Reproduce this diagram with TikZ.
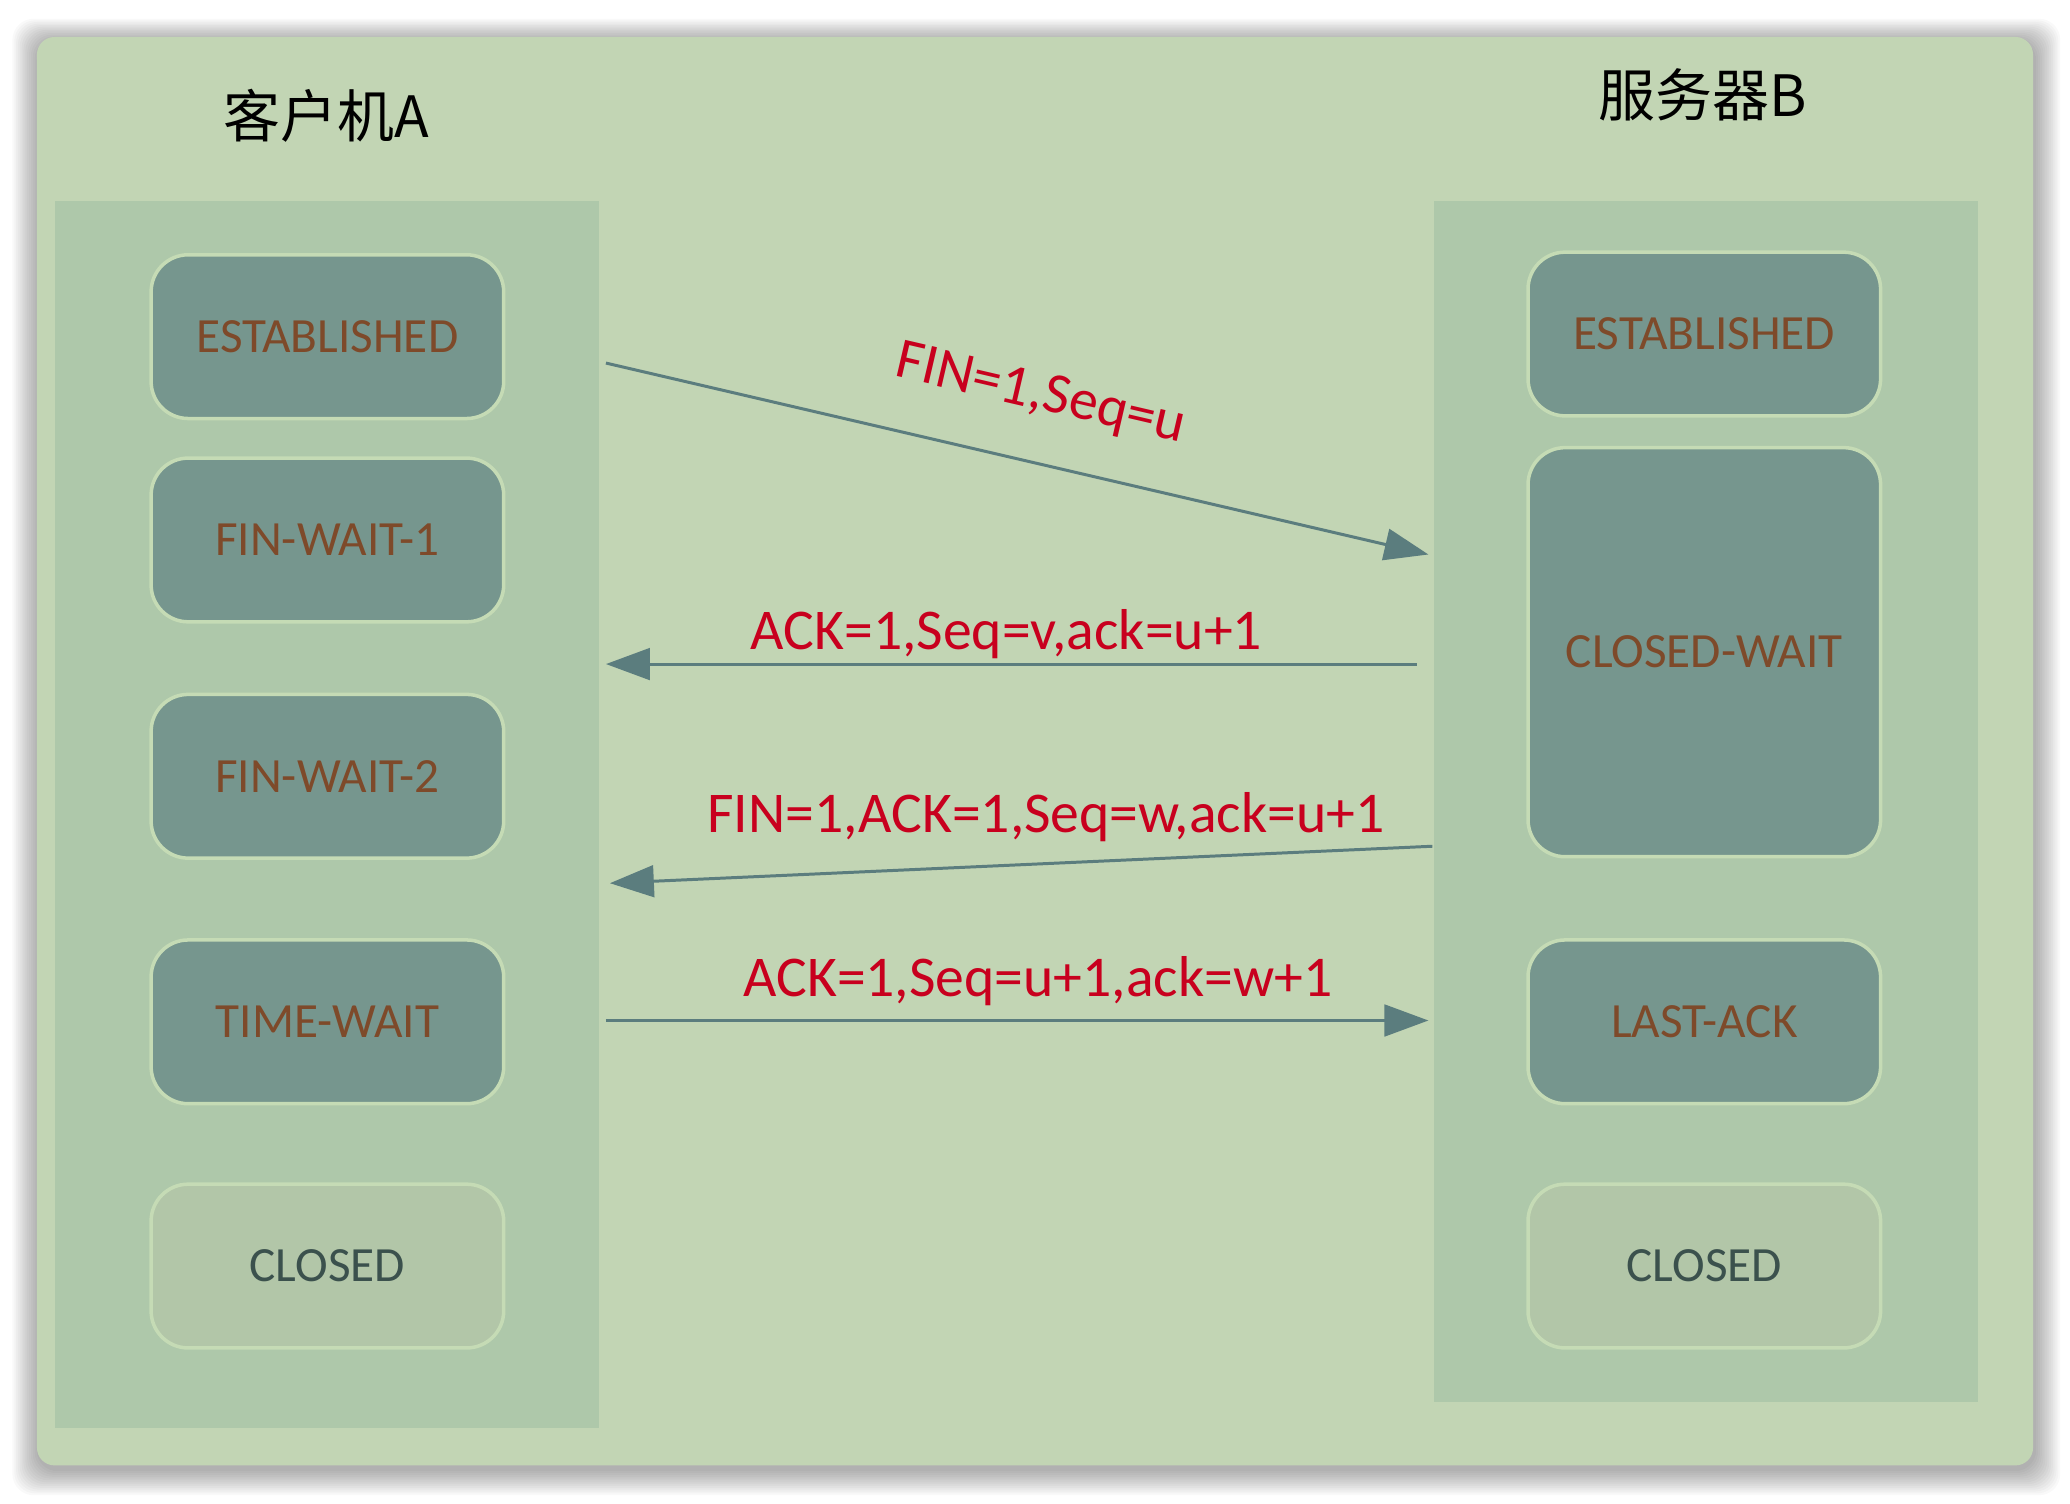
\documentclass[tikz,border=0pt]{standalone}
\usepackage{fontspec}
\setmainfont{Carlito}
\newfontfamily\cjk{Noto Sans CJK SC}
\usetikzlibrary{arrows.meta}
\definecolor{outerbg}{HTML}{C2D5B4}
\definecolor{colbg}{HTML}{AEC8AA}
\definecolor{nodefill}{HTML}{76968E}
\definecolor{nodeline}{HTML}{C5DBB5}
\definecolor{closedfill}{HTML}{B2C6A8}
\definecolor{brown}{HTML}{7E4A2A}
\definecolor{closedtext}{HTML}{3B514D}
\definecolor{arrowc}{HTML}{5B7D7E}
\definecolor{labred}{HTML}{C8001E}
\tikzset{
  state/.style={draw=nodeline, line width=1pt, fill=nodefill, rounded corners=0.37cm,
    minimum width=3.525cm, minimum height=1.637cm, inner sep=0pt,
    text=brown, font=\fontsize{14}{16}\selectfont},
  closedst/.style={state, fill=closedfill, text=closedtext},
  msg/.style={draw=arrowc, line width=0.85pt, -{Triangle[length=12.5pt,width=9pt]}},
  msglabel/.style={text=labred, inner sep=0pt, font=\fontsize{16.4}{18}\selectfont},
  title/.style={font=\cjk\fontsize{16.2}{18}\selectfont, text=black, inner sep=0pt}
}
\begin{document}
\begin{tikzpicture}[x=0.013202cm, y=-0.013202cm]
\useasboundingbox (0,0) rectangle (1568,1139);
\fill[white] (0,0) rectangle (1568,1139);
% soft shadow of the outer panel
\foreach \i in {1,...,14}{
  \fill[black, opacity=0.022, rounded corners=6pt]
    ({28-1.4*\i+1},{28-1.2*\i+3}) rectangle ({1540+1.4*\i+1},{1110+1.4*\i+3});
}
% outer panel
\fill[outerbg, rounded corners=5pt] (28,28) rectangle (1540,1110);
\fill[colbg] (42,152) rectangle (454,1082);
\fill[colbg] (1086,152) rectangle (1498,1062);
% titles
\node[title] (tA) at (247,88) {客户机A};
\node[title] (tB) at (1290,72) {服务器B};
% client states
\node[state] (aEst) at (248,255) {ESTABLISHED};
\node[state] (aFw1) at (248,409) {FIN-WAIT-1};
\node[state] (aFw2) at (248,588) {FIN-WAIT-2};
\node[state] (aTw) at (248,774) {TIME-WAIT};
\node[closedst] (aCl) at (248,959) {CLOSED};
% server states
\node[state] (bEst) at (1291,253) {ESTABLISHED};
\node[state, minimum height=4.09cm] (bCw) at (1291,494) {CLOSED-WAIT};
\node[state] (bLa) at (1291,774) {LAST-ACK};
\node[closedst] (bCl) at (1291,959) {CLOSED};
% connector end points
\coordinate (m1s) at (459,275);
\coordinate (m1e) at (1082,420);
\coordinate (m2s) at (1073,503);
\coordinate (m2e) at (459,503);
\coordinate (m3s) at (1085,641);
\coordinate (m3e) at (462,669);
\coordinate (m4s) at (459,773);
\coordinate (m4e) at (1082,773);
% messages
\draw[msg] (m1s) -- node[msglabel, sloped, above=0.42cm, pos=0.51] (l1) {FIN=1,Seq=u} (m1e);
\draw[msg] (m2s) -- node[msglabel, above=1pt, pos=0.506] (l2) {ACK=1,Seq=v,ack=u+1} (m2e);
\draw[msg] (m3s) -- node[msglabel, above=0.2cm, pos=0.47] (l3) {FIN=1,ACK=1,Seq=w,ack=u+1} (m3e);
\draw[msg] (m4s) -- node[msglabel, above=0.13cm, pos=0.525] (l4) {ACK=1,Seq=u+1,ack=w+1} (m4e);
\end{tikzpicture}
\end{document}
